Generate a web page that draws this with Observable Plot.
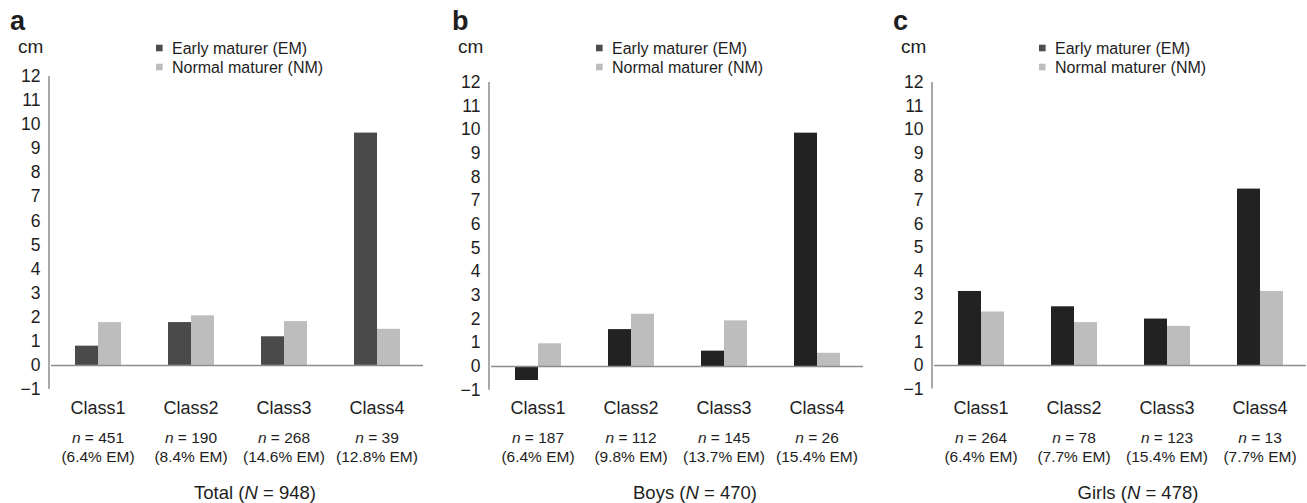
<!DOCTYPE html>
<html><head><meta charset="utf-8">
<script src="https://cdn.jsdelivr.net/npm/d3@7"></script>
<script src="https://cdn.jsdelivr.net/npm/@observablehq/plot@0.6"></script>
<style>
html,body{margin:0;padding:0;background:#fff;}
#wrap{position:relative;width:1307px;height:503px;overflow:hidden;background:#fff;}
#wrap > svg{position:absolute;top:0;}
</style></head><body><div id="wrap"></div>
<script>
// ---- data ----
const classes = ["Class1", "Class2", "Class3", "Class4"];
const seriesKeys = ["EM", "NM"];
const seriesNames = ["Early maturer (EM)", "Normal maturer (NM)"];
const yTicks = [-1, 0, 1, 2, 3, 4, 5, 6, 7, 8, 9, 10, 11, 12];

const totalEM = [0.80, 1.78, 1.19, 9.65];
const totalNM = [1.78, 2.06, 1.82, 1.50];
const totalN = [451, 190, 268, 39];
const totalPct = ["6.4", "8.4", "14.6", "12.8"];

const boysEM = [-0.59, 1.56, 0.65, 9.86];
const boysNM = [0.96, 2.21, 1.93, 0.56];
const boysN = [187, 112, 145, 26];
const boysPct = ["6.4", "9.8", "13.7", "15.4"];

const girlsEM = [3.14, 2.49, 1.97, 7.48];
const girlsNM = [2.27, 1.82, 1.66, 3.14];
const girlsN = [264, 78, 123, 13];
const girlsPct = ["6.4", "7.7", "15.4", "7.7"];

const panelLetters = ["a", "b", "c"];
const groupNames = ["Total", "Boys", "Girls"];
const groupN = [948, 470, 478];

// ---- layout ----
const FONT = '"Liberation Sans", Arial, Helvetica, sans-serif';
const H = 503;
const panels = [
  {em: totalEM, nm: totalNM, n: totalN, pct: totalPct, emColor: "#4a4a4a", left: 0, top: 76, bottom: 389},
  {em: boysEM, nm: boysNM, n: boysN, pct: boysPct, emColor: "#222222", left: 440, top: 82, bottom: 389.7},
  {em: girlsEM, nm: girlsNM, n: girlsN, pct: girlsPct, emColor: "#222222", left: 883, top: 82, bottom: 388.6}
];
const legendColors = ["#4d4d4d", "#bdbdbd"];
const wrap = document.getElementById("wrap");

panels.forEach((p, k) => {
  const rows = classes.flatMap((c, i) => [
    {cls: c, key: "EM", v: p.em[i]},
    {cls: c, key: "NM", v: p.nm[i]}
  ]);
  const labels = classes.map((c, i) => ({cls: c, n: `n = ${p.n[i]}`, pct: `(${p.pct[i]}% EM)`}));
  const svg = Plot.plot({
    width: 424,
    height: H,
    marginLeft: 49,
    marginRight: 0,
    marginTop: p.top,
    marginBottom: H - p.bottom,
    style: {fontFamily: FONT, fontSize: "17.5px", color: "#1e1e1e", background: "transparent", overflow: "visible"},
    fx: {domain: classes, padding: 0, axis: null},
    x: {domain: seriesKeys, paddingInner: 0, paddingOuter: 0.958, axis: null},
    y: {domain: [-1, 12], ticks: yTicks, tickSize: 0, tickPadding: 11, label: null},
    color: {domain: seriesKeys, range: [p.emColor, "#bdbdbd"]},
    marks: [
      Plot.barY(rows, {fx: "cls", x: "key", y: "v", fill: "key"}),
      Plot.ruleY([0], {stroke: "#8c8c8c", strokeWidth: 1.5}),
      Plot.text(labels, {fx: "cls", text: "cls", frameAnchor: "bottom", dy: 413.2 - p.bottom, fontSize: 18}),
      Plot.text(labels, {fx: "cls", text: "n", frameAnchor: "bottom", dy: 442 - p.bottom, fontSize: 15.5}),
      Plot.text(labels, {fx: "cls", text: "pct", frameAnchor: "bottom", dy: 461 - p.bottom, fontSize: 15.5})
    ]
  });
  svg.style.left = p.left + "px";
  wrap.appendChild(svg);
  const s = d3.select(svg);

  // italic n
  s.selectAll("text").each(function () {
    const t = this.textContent;
    if (t.startsWith("n = ")) {
      const el = d3.select(this);
      el.text(null);
      el.append("tspan").attr("font-style", "italic").text("n");
      el.append("tspan").text(t.slice(1));
    }
  });

  // y axis line via the y scale
  const ys = svg.scale("y");
  s.append("line")
    .attr("x1", 49).attr("x2", 49)
    .attr("y1", ys.apply(12)).attr("y2", ys.apply(-1))
    .attr("stroke", "#8c8c8c").attr("stroke-width", 1.5);

  const g = s.append("g").attr("text-anchor", "start").attr("font-family", FONT).attr("fill", "#1e1e1e");

  // panel letter
  g.append("text").attr("x", k === 1 ? 12 : 10).attr("y", 30)
    .attr("font-weight", "bold").attr("font-size", 27)
    .text(panelLetters[k]);

  // unit
  g.append("text").attr("x", 18).attr("y", 53)
    .attr("font-size", 19)
    .text("cm");

  // legend
  seriesNames.forEach((name, j) => {
    const cy = j === 0 ? 48 : 67;
    g.append("rect").attr("x", 156).attr("y", cy - 3.3).attr("width", 6.6).attr("height", 6.6)
      .attr("fill", legendColors[j]);
    g.append("text").attr("x", 172).attr("y", cy + 5.5)
      .attr("font-size", 16)
      .text(name);
  });

  // group title
  const title = g.append("text").attr("x", 255).attr("y", 499)
    .attr("text-anchor", "middle")
    .attr("font-size", 18.5);
  title.append("tspan").text(groupNames[k] + " (");
  title.append("tspan").attr("font-style", "italic").text("N");
  title.append("tspan").text(" = " + groupN[k] + ")");
});
</script>
</body></html>
